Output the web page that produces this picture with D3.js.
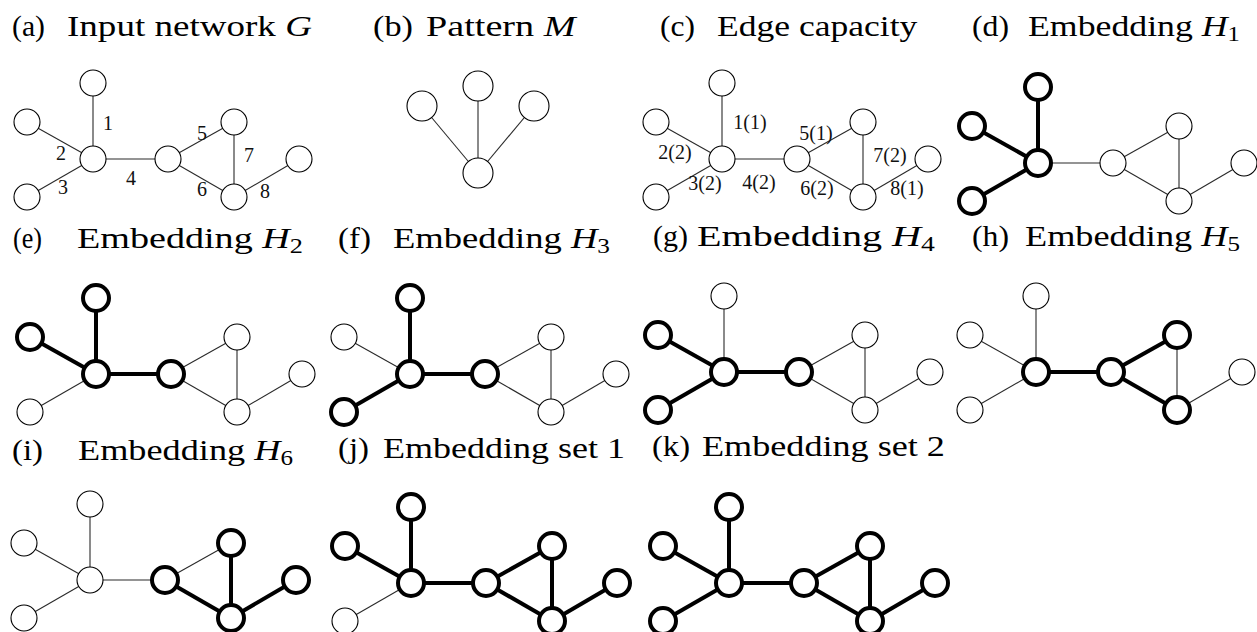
<!DOCTYPE html>
<html>
<head>
<meta charset="utf-8">
<script src="https://cdn.jsdelivr.net/npm/d3@7"></script>
<style>
  body { margin: 0; background: #fff; }
  svg { display: block; }
</style>
</head>
<body>
<svg id="fig" width="1257" height="632"></svg>
<script>
// ---- Input network G: eight nodes, layout units with the hub at the origin ----
const nodeIds = [0, 1, 2, 3, 4, 5, 6, 7];
const nodeX = [0, -66, -66, 0, 75, 141, 141, 206];
const nodeY = [-76, -37, 38, 0, 0, -37, 38, 0];

// ---- Edges of G, numbered 1..8, with their capacities ----
const edgeIds = [1, 2, 3, 4, 5, 6, 7, 8];
const edgeSource = [3, 1, 2, 3, 4, 4, 5, 6];
const edgeTarget = [0, 3, 3, 4, 5, 6, 6, 7];
const edgeCapacity = [1, 2, 2, 2, 1, 2, 2, 1];

// ---- Pattern M: a star with three leaves ----
const patternX = [0, -56, 56, 0];
const patternY = [-87, -67, -67, 0];
const patternSource = [3, 3, 3];
const patternTarget = [0, 1, 2];

// ---- Embeddings H1..H6 (edge ids used) and the two embedding sets ----
const embeddingEdges = [
  [1, 2, 3],
  [1, 2, 4],
  [1, 3, 4],
  [2, 3, 4],
  [4, 5, 6],
  [6, 7, 8]
];
const embeddingSet1 = [2, 5, 6];   // H2, H5, H6
const embeddingSet2 = [1, 5, 6];   // H1, H5, H6

// ---- Sub-figure captions ----
const captionLabels = ["(a)", "(b)", "(c)", "(d)", "(e)", "(f)", "(g)", "(h)", "(i)", "(j)", "(k)"];
const captionWords = ["Input network", "Pattern", "Edge capacity", "Embedding", "Embedding",
  "Embedding", "Embedding", "Embedding", "Embedding", "Embedding set 1", "Embedding set 2"];
const captionSymbol = ["G", "M", "", "H", "H", "H", "H", "H", "H", "", ""];
const captionIndex = ["", "", "", "1", "2", "3", "4", "5", "6", "", ""];

// ---- Panel layout (pixels): hub position, caption placement ----
const panels = [
  { kind: "labels", hx: 93,   hy: 159, lx: 12,  lx1: 45,  tx0: 67,   tx1: 312,  by: 36 },
  { kind: "pattern", hx: 478, hy: 173, lx: 373, lx1: 413, tx0: 426,  tx1: 578,  by: 36 },
  { kind: "capacity", hx: 722, hy: 159, lx: 660, lx1: 695, tx0: 717, tx1: 918,  by: 36 },
  { kind: "emb", emb: 1, hx: 1038, hy: 163, lx: 972, lx1: 1009, tx0: 1028, tx1: 1240, by: 36 },
  { kind: "emb", emb: 2, hx: 96,   hy: 374, lx: 13,  lx1: 42,  tx0: 77,   tx1: 303,  by: 248 },
  { kind: "emb", emb: 3, hx: 410,  hy: 374, lx: 338, lx1: 371, tx0: 393,  tx1: 610,  by: 248 },
  { kind: "emb", emb: 4, hx: 724,  hy: 372, lx: 653, lx1: 688, tx0: 697,  tx1: 935,  by: 246 },
  { kind: "emb", emb: 5, hx: 1036, hy: 372, lx: 972, lx1: 1009, tx0: 1025, tx1: 1240, by: 246 },
  { kind: "emb", emb: 6, hx: 90,   hy: 580, lx: 12,  lx1: 43,  tx0: 78,   tx1: 293,  by: 460 },
  { kind: "set", set: 1, hx: 411,  hy: 583, lx: 338, lx1: 369, tx0: 383,  tx1: 625,  by: 458 },
  { kind: "set", set: 2, hx: 729,  hy: 583, lx: 652, lx1: 690, tx0: 702,  tx1: 945,  by: 456 }
];

// Edge-label anchors (layout units) for panels (a) and (c)
const numberAnchorX = [15, -32, -30, 38, 109, 109, 156, 172];
const numberAnchorY = [-36, -6, 28, 19, -26, 30, -4, 32];
const capacityAnchorX = [28, -47, -17, 37, 94, 95, 168, 185];
const capacityAnchorY = [-37, -7, 24, 23, -26, 29, -4, 29];

const R = 13, RP = 15;
const THIN = 1.1, THICK = 4;
const serif = "Liberation Serif";
const CAPTION_SIZE = 29;

const svg = d3.select("#fig");

const edges = edgeIds.map((id, i) => ({ id, s: edgeSource[i], t: edgeTarget[i], cap: edgeCapacity[i] }));
const nodes = nodeIds.map(i => ({ id: i, x: nodeX[i], y: nodeY[i] }));

function highlightFor(p) {
  let used = [];
  if (p.kind === "emb") used = embeddingEdges[p.emb - 1];
  if (p.kind === "set") {
    const members = p.set === 1 ? embeddingSet1 : embeddingSet2;
    used = [...new Set(members.flatMap(h => embeddingEdges[h - 1]))];
  }
  const e = new Set(used);
  const n = new Set();
  edges.forEach(ed => { if (e.has(ed.id)) { n.add(ed.s); n.add(ed.t); } });
  return { e, n };
}

function drawGraph(p, hl) {
  const x = d3.scaleLinear().domain([0, 100]).range([p.hx, p.hx + 100]);
  const y = d3.scaleLinear().domain([0, 100]).range([p.hy, p.hy + 100]);
  const g = svg.append("g");
  g.selectAll("line").data(edges).join("line")
    .attr("x1", d => x(nodes[d.s].x)).attr("y1", d => y(nodes[d.s].y))
    .attr("x2", d => x(nodes[d.t].x)).attr("y2", d => y(nodes[d.t].y))
    .attr("stroke", d => hl.e.has(d.id) ? "#000" : "#2a2a2a")
    .attr("stroke-width", d => hl.e.has(d.id) ? THICK : THIN);
  g.selectAll("circle").data(nodes).join("circle")
    .attr("cx", d => x(d.x)).attr("cy", d => y(d.y)).attr("r", R)
    .attr("fill", "#fff").attr("stroke", "#000")
    .attr("stroke-width", d => hl.n.has(d.id) ? THICK : THIN);
  return { g, x, y };
}

function drawPattern(p) {
  const x = d3.scaleLinear().domain([0, 100]).range([p.hx, p.hx + 100]);
  const y = d3.scaleLinear().domain([0, 100]).range([p.hy, p.hy + 100]);
  const g = svg.append("g");
  g.selectAll("line").data(patternSource.map((s, i) => ({ s, t: patternTarget[i] }))).join("line")
    .attr("x1", d => x(patternX[d.s])).attr("y1", d => y(patternY[d.s]))
    .attr("x2", d => x(patternX[d.t])).attr("y2", d => y(patternY[d.t]))
    .attr("stroke", "#2a2a2a").attr("stroke-width", THIN);
  g.selectAll("circle").data(patternX.map((v, i) => i)).join("circle")
    .attr("cx", i => x(patternX[i])).attr("cy", i => y(patternY[i])).attr("r", RP)
    .attr("fill", "#fff").attr("stroke", "#000").attr("stroke-width", THIN);
}

// Place a text element so that it spans [x0, x1] horizontally on baseline y
function fitText(t, x0, x1, y) {
  const w = t.node().getBBox().width;
  const s = (x1 - x0) / w;
  t.attr("transform", `translate(${x0},${y}) scale(${s},1)`);
}

function drawCaption(p, i) {
  const lab = svg.append("text")
    .attr("font-family", serif).attr("font-size", CAPTION_SIZE).attr("fill", "#000")
    .text(captionLabels[i]);
  fitText(lab, p.lx, p.lx1, p.by);
  const t = svg.append("text")
    .attr("font-family", serif).attr("font-size", CAPTION_SIZE).attr("fill", "#000");
  t.append("tspan").text(captionWords[i]);
  if (captionSymbol[i]) {
    t.append("tspan").attr("font-style", "italic").text("\u00a0" + captionSymbol[i]);
  }
  if (captionIndex[i]) {
    t.append("tspan").attr("font-size", 20).attr("dy", 5).text(captionIndex[i]);
  }
  fitText(t, p.tx0, p.tx1, p.by);
}

panels.forEach((p, i) => {
  if (p.kind === "pattern") {
    drawPattern(p);
  } else {
    const hl = highlightFor(p);
    const { g, x, y } = drawGraph(p, hl);
    if (p.kind === "labels" || p.kind === "capacity") {
      const ax = p.kind === "labels" ? numberAnchorX : capacityAnchorX;
      const ay = p.kind === "labels" ? numberAnchorY : capacityAnchorY;
      g.selectAll("text.el").data(edges).join("text")
        .attr("class", "el")
        .attr("x", (d, k) => x(ax[k])).attr("y", (d, k) => y(ay[k]))
        .attr("text-anchor", "middle").attr("dominant-baseline", "central")
        .attr("font-family", serif).attr("font-size", 20).attr("fill", "#111")
        .text(d => p.kind === "labels" ? d.id : `${d.id}(${d.cap})`);
    }
  }
  drawCaption(p, i);
});
</script>
</body>
</html>
